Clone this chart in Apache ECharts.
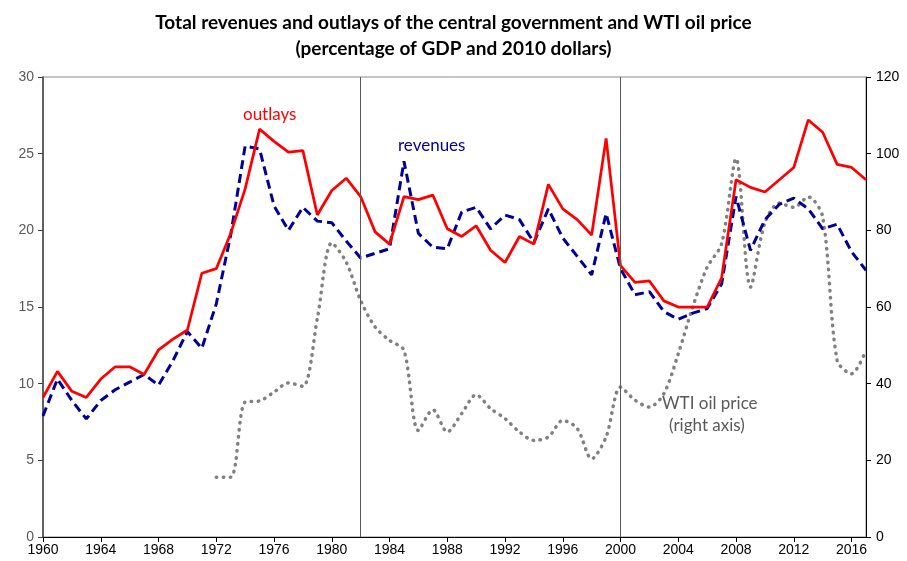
<!DOCTYPE html>
<html>
<head>
<meta charset="utf-8">
<script src="https://cdn.jsdelivr.net/npm/echarts@6/dist/echarts.min.js"></script>
<style>
  html, body { margin: 0; padding: 0; background: #fff; }
  #chart { width: 907px; height: 561px; }
</style>
</head>
<body>
<div id="chart"></div>
<script>
// Ingresos y gastos del gobierno central (% del PIB) y precio WTI (dólares de 2010)
const years = [
  '1960','1961','1962','1963','1964','1965','1966','1967','1968','1969',
  '1970','1971','1972','1973','1974','1975','1976','1977','1978','1979',
  '1980','1981','1982','1983','1984','1985','1986','1987','1988','1989',
  '1990','1991','1992','1993','1994','1995','1996','1997','1998','1999',
  '2000','2001','2002','2003','2004','2005','2006','2007','2008','2009',
  '2010','2011','2012','2013','2014','2015','2016','2017'
];

const outlays = [
  9.1, 10.8, 9.5, 9.1, 10.3, 11.1, 11.1, 10.6, 12.2, 12.9,
  13.5, 17.2, 17.5, 19.8, 22.7, 26.6, 25.8, 25.1, 25.2, 21.0,
  22.6, 23.4, 22.2, 19.9, 19.1, 22.2, 22.0, 22.3, 20.1, 19.6,
  20.3, 18.7, 17.9, 19.6, 19.1, 23.0, 21.4, 20.7, 19.7, 26.0,
  17.7, 16.6, 16.7, 15.4, 15.0, 15.0, 15.0, 16.9, 23.3, 22.8,
  22.5, 23.3, 24.1, 27.2, 26.4, 24.3, 24.1, 23.3
];

const revenues = [
  7.9, 10.3, 8.9, 7.7, 8.9, 9.6, 10.1, 10.6, 9.9, 11.5,
  13.4, 12.3, 15.2, 19.7, 25.5, 25.3, 21.6, 20.0, 21.5, 20.6,
  20.5, 19.3, 18.2, 18.5, 18.8, 24.5, 19.8, 18.9, 18.8, 21.2,
  21.5, 20.1, 21.0, 20.7, 19.2, 21.4, 19.5, 18.3, 17.1, 21.1,
  17.5, 15.8, 16.0, 14.7, 14.2, 14.6, 14.9, 16.5, 22.2, 18.7,
  20.7, 21.7, 22.1, 21.4, 20.1, 20.4, 18.6, 17.4
];

const wtiPrice = [
  null, null, null, null, null, null, null, null, null, null,
  null, null, 15.6, 15.6, 35.2, 35.5, 37.8, 40.2, 39.3, 57.0,
  76.7, 71.7, 61.7, 54.8, 51.3, 48.7, 27.8, 33.2, 27.4, 32.2,
  37.1, 33.5, 30.9, 27.4, 25.2, 26.1, 30.4, 28.3, 20.4, 26.1,
  39.1, 35.7, 33.9, 37.4, 47.8, 60.0, 70.4, 76.5, 98.7, 65.2,
  82.0, 87.1, 86.0, 88.7, 83.5, 46.1, 42.6, 48.7
];

const periodBreaks = ['1982', '2000'];

const axisFont = 'Liberation Sans, Arial, sans-serif';

const chart = echarts.init(document.getElementById('chart'));

const option = {
  animation: false,
  title: {
    text: 'Total revenues and outlays of the central government and WTI oil price\n(percentage of GDP and 2010 dollars)',
    left: 'center',
    top: 5,
    textStyle: {
      fontFamily: 'Lato',
      fontSize: 19,
      fontWeight: 'bold',
      color: '#000',
      lineHeight: 26,
      align: 'center'
    }
  },
  grid: {
    left: 43,
    right: 41,
    top: 77,
    bottom: 24,
    show: true,
    borderColor: '#8c8c8c',
    borderWidth: 1
  },
  xAxis: {
    type: 'category',
    data: years,
    boundaryGap: false,
    axisLine: { lineStyle: { color: '#000', width: 1 } },
    axisTick: { interval: 3, length: 5, lineStyle: { color: '#000' } },
    axisLabel: {
      interval: 3,
      color: '#000',
      fontFamily: axisFont,
      fontSize: 14,
      margin: 6
    },
    splitLine: { show: false }
  },
  yAxis: [
    {
      type: 'value',
      min: 0,
      max: 30,
      interval: 5,
      axisLine: { show: true, lineStyle: { color: '#404040', width: 1.5 } },
      axisTick: { show: true, length: 5, lineStyle: { color: '#404040' } },
      axisLabel: { color: '#595959', fontFamily: axisFont, fontSize: 14, margin: 9 },
      splitLine: { show: false }
    },
    {
      type: 'value',
      min: 0,
      max: 120,
      interval: 20,
      position: 'right',
      axisLine: { show: true, lineStyle: { color: '#000', width: 1 } },
      axisTick: { show: true, length: 5, lineStyle: { color: '#000' } },
      axisLabel: { color: '#000', fontFamily: axisFont, fontSize: 14, margin: 10 },
      splitLine: { show: false }
    }
  ],
  series: [
    {
      name: 'WTI oil price',
      type: 'line',
      yAxisIndex: 1,
      data: wtiPrice,
      showSymbol: false,
      smooth: 0.3,
      lineStyle: { color: '#808080', width: 3.5, type: [0.5, 6.5], cap: 'round' },
      z: 1
    },
    {
      name: 'revenues',
      type: 'line',
      data: revenues,
      showSymbol: false,
      lineStyle: { color: '#000099', width: 3, type: [9, 5] },
      z: 2
    },
    {
      name: 'outlays',
      type: 'line',
      data: outlays,
      showSymbol: false,
      lineStyle: { color: '#ff0000', width: 2.75 },
      z: 3,
      markLine: {
        silent: true,
        symbol: 'none',
        label: { show: false },
        lineStyle: { color: '#595959', width: 1, type: 'solid' },
        data: periodBreaks.map(y => ({ xAxis: y }))
      }
    }
  ],
  graphic: [
    {
      type: 'text', left: 243, top: 106,
      style: { text: 'outlays', fill: '#ff0000', font: '17px Lato' }
    },
    {
      type: 'text', left: 398, top: 137,
      style: { text: 'revenues', fill: '#000099', font: '17px Lato' }
    },
    {
      type: 'text', left: 662, top: 395,
      style: { text: 'WTI oil price', fill: '#595959', font: '17px Lato' }
    },
    {
      type: 'text', left: 669, top: 417,
      style: { text: '(right axis)', fill: '#595959', font: '17px Lato' }
    }
  ]
};

chart.setOption(option);
</script>
</body>
</html>
